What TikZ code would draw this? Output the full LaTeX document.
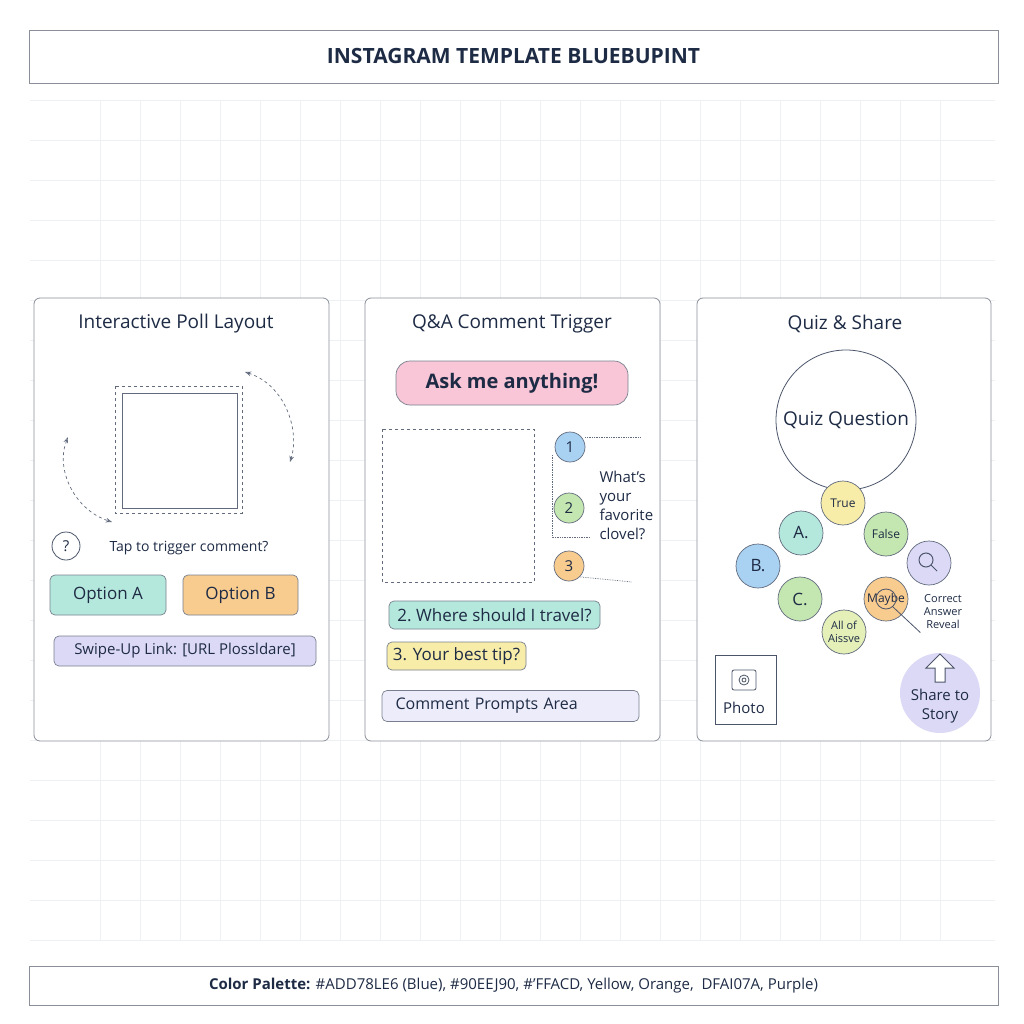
\documentclass[tikz,border=0pt]{standalone}
\usepackage{fontspec}
\setmainfont{Open Sans}
\usepackage{tikz}
\usetikzlibrary{arrows.meta,positioning}
\definecolor{ink}{HTML}{1E2B45}
\definecolor{frame}{HTML}{8A8F99}
\definecolor{gridc}{HTML}{EEF1F4}
\definecolor{tealf}{HTML}{B5E8DC}
\definecolor{orangef}{HTML}{F8CB8E}
\definecolor{lavf}{HTML}{DCD9F6}
\definecolor{pinkf}{HTML}{F8C6D6}
\definecolor{yellowf}{HTML}{F8EDA8}
\definecolor{bluef}{HTML}{A9D1F2}
\definecolor{greenf}{HTML}{C4E6B0}
\definecolor{paleyg}{HTML}{E4F0B8}
\tikzset{
  panel/.style={draw=frame, rounded corners=6pt, line width=0.8pt},
  ptitle/.style={text=ink, font=\fontsize{19}{22}\selectfont},
  pill/.style={draw=ink!60, rounded corners=5pt, line width=0.7pt, text=ink, font=\fontsize{17}{20}\selectfont, inner sep=0pt},
  dot/.style={circle, draw=ink!70, line width=0.7pt, minimum size=44pt, inner sep=0pt, text=ink, font=\fontsize{12}{13}\selectfont, align=center},
  num/.style={circle, draw=ink!70, line width=0.7pt, minimum size=30pt, inner sep=0pt, text=ink, font=\fontsize{15}{16}\selectfont},
  dashln/.style={dashed, draw=ink!70, line width=0.7pt},
  dotln/.style={densely dotted, draw=ink!70, line width=0.7pt}
}
\begin{document}
\begin{tikzpicture}[x=1pt,y=-1pt]
\useasboundingbox[fill=white] (0,0) rectangle (1024,1024);
% faint grid
\foreach \g in {100,140,...,940} {
  \draw[gridc, line width=0.5pt] (30,\g) -- (995,\g);
  \draw[gridc, line width=0.5pt] (\g,100) -- (\g,940);
}
% header and footer
\node[draw=frame, line width=0.8pt, minimum width=969pt, minimum height=53pt, inner sep=0pt, text=ink, font=\bfseries\fontsize{21}{24}\selectfont] (header) at (513.5,56.5) {INSTAGRAM TEMPLATE BLUEBUPINT};
\node[draw=frame, line width=0.8pt, minimum width=969pt, minimum height=39pt, inner sep=0pt, text=ink, font=\fontsize{15}{18}\selectfont] (footer) at (513.5,985.5) {\textbf{Color Palette:} \#ADD78LE6 (Blue), \#90EEJ90, \#'FFACD, Yellow, Orange,\ \ DFAI07A, Purple)};

% panels
\draw[panel, fill=white] (34,298) rectangle (329,741);
\draw[panel, fill=white] (365,298) rectangle (660,741);
\draw[panel, fill=white] (697,298) rectangle (991,741);

% --- poll panel
\node[ptitle] (polltitle) at (176,324) {Interactive Poll Layout};
\draw[dashln] (115,386) rectangle (242,513);
\draw[draw=ink!70, line width=0.8pt] (122,393) rectangle (237,508);
\coordinate (arA1) at (245,372);
\coordinate (arA2) at (290,462);
\coordinate (arB1) at (68,437);
\coordinate (arB2) at (112,522);
\draw[dashln, {Stealth[open]}-{Stealth[open]}] (arA1) .. controls (285,385) and (300,430) .. (arA2);
\draw[dashln, {Stealth[open]}-{Stealth[open]}] (arB1) .. controls (55,470) and (75,510) .. (arB2);
\node[circle, draw=ink!80, line width=0.8pt, minimum size=28pt, inner sep=0pt, text=ink, font=\fontsize{15}{16}\selectfont] (qmark) at (66,546) {?};
\node[text=ink, font=\fontsize{14}{16}\selectfont, anchor=west] (tap) at (106,548) {Tap to trigger comment?};
\node[pill, fill=tealf, minimum width=116pt, minimum height=40pt] (optA) at (108,595) {Option A};
\node[pill, fill=orangef, minimum width=115pt, minimum height=40pt] (optB) at (240.5,595) {Option B};
\node[pill, fill=lavf, minimum width=262pt, minimum height=30pt, font=\fontsize{15}{18}\selectfont] (swipe) at (185,651) {Swipe-Up Link: [URL Plossldare]};

% --- Q&A panel
\node[ptitle] (qatitle) at (512,324) {Q\&A Comment Trigger};
\node[pill, fill=pinkf, rounded corners=14pt, minimum width=232pt, minimum height=44pt, font=\bfseries\fontsize{20}{22}\selectfont] (ask) at (512,383) {Ask me anything!};
\draw[dashln] (382,429) rectangle (534,582);
\node[num, fill=bluef] (n1) at (570,447) {1};
\node[num, fill=greenf] (n2) at (569,508) {2};
\node[num, fill=orangef] (n3) at (569,566) {3};
\coordinate (d1) at (640,437);
\coordinate (d2) at (590,537);
\coordinate (d3) at (632,582);
\draw[dotln] (n1.east) ++(0,-10) -- (d1);
\draw[dotln] (552,455) -- (552,537) -- (d2);
\draw[dotln] (n3.south east) -- (d3);
\node[text=ink, font=\fontsize{15}{19}\selectfont, align=left, anchor=west] (fav) at (596,505) {What's\\your\\favorite\\clovel?};
\node[pill, fill=tealf, minimum width=211pt, minimum height=28pt] (travel) at (494.5,615) {2.\ Where should I travel?};
\node[pill, fill=yellowf, minimum width=139pt, minimum height=28pt] (tip) at (456.5,656) {3. Your best tip?};
\node[pill, fill=lavf!50, minimum width=257pt, minimum height=31pt, font=\fontsize{16}{19}\selectfont, text width=230pt, align=left] (prompts) at (510.5,706) {Comment Prompts Area};

% --- quiz panel
\node[ptitle] (quiztitle) at (845,324) {Quiz \& Share};
\node[circle, draw=ink!80, line width=0.8pt, minimum size=140pt, text=ink, font=\fontsize{19}{22}\selectfont] (quiz) at (846,420) {Quiz Question};
\node[dot, fill=yellowf] (qtrue) at (843,503) {True};
\node[dot, fill=tealf, font=\fontsize{17}{18}\selectfont] (qa) at (801,533) {A.};
\node[dot, fill=greenf] (qfalse) at (886,534) {False};
\node[dot, fill=bluef, font=\fontsize{17}{18}\selectfont] (qb) at (758,566) {B.};
\node[dot, fill=lavf] (qsearch) at (929,563) {};
\draw[ink!80, line width=1pt] (qsearch.center) ++(-3,-3) circle (7pt) ++(5,5) -- ++(6,6);
\node[dot, fill=greenf, font=\fontsize{17}{18}\selectfont] (qc) at (800,599) {C.};
\node[dot, fill=orangef] (qmaybe) at (886,599) {Maybe};
\node[dot, fill=paleyg, font=\fontsize{11}{13}\selectfont] (qall) at (844,632) {All of\\Aissve};
\node[text=ink, font=\fontsize{11}{13}\selectfont, align=center] (reveal) at (943,612) {Correct\\Answer\\Reveal};
\draw[ink!80, line width=0.8pt] (qmaybe.center) circle (10pt);
\draw[ink!80, line width=0.8pt] (893,607) -- (reveal.south west);
\node[draw=ink!80, line width=0.8pt, minimum width=61pt, minimum height=69pt, inner sep=0pt] (photo) at (745.5,689.5) {};
\node[text=ink, font=\fontsize{15}{18}\selectfont] (photolbl) at (744,708) {Photo};
\draw[ink!80, line width=0.8pt, rounded corners=2pt] (732,670) rectangle (756,690);
\draw[ink!80, line width=0.8pt] (744,680) circle (5pt) (744,680) circle (2pt);
\node[circle, fill=lavf, minimum size=80pt, inner sep=0pt] (share) at (940,693) {};
\node[text=ink, font=\fontsize{15}{19}\selectfont, align=center] (sharelbl) at (940,706) {Share to\\Story};
\draw[ink!80, line width=1pt, fill=white] (940,654) -- (954,668) -- (945,668) -- (945,682) -- (935,682) -- (935,668) -- (926,668) -- cycle;
\end{tikzpicture}
\end{document}
